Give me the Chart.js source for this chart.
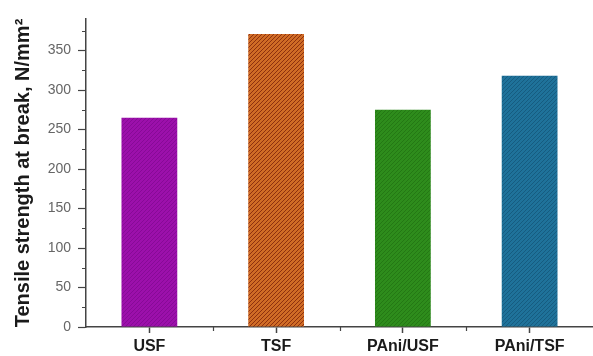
<!DOCTYPE html>
<html>
<head>
<meta charset="utf-8">
<script src="https://cdn.jsdelivr.net/npm/chart.js@4.4.1/dist/chart.umd.min.js"></script>
<style>
  html, body { margin: 0; padding: 0; background: #fff; }
  #wrap { width: 593px; height: 356px; }
</style>
</head>
<body>
<div id="wrap"><canvas id="c" width="593" height="356"></canvas></div>
<script>
// Fibre samples and their tensile strength at break (N/mm²)
const samples = ['USF', 'TSF', 'PAni/USF', 'PAni/TSF'];
const strength = [265, 371, 275, 318];

// Value axis range and tick spacing
const yMin = 0;
const yMax = 390;
const yMajorStep = 50;
const yMinorStep = 25;

// Hatched fill: a base colour crossed by thin diagonal stripes
function hatch(base, stripe, size, lw) {
  const c = document.createElement('canvas');
  c.width = size; c.height = size;
  const g = c.getContext('2d');
  g.fillStyle = base;
  g.fillRect(0, 0, size, size);
  g.strokeStyle = stripe;
  g.lineWidth = lw;
  g.beginPath();
  g.moveTo(-1, size + 1); g.lineTo(size + 1, -1);
  g.moveTo(-1, 1); g.lineTo(1, -1);
  g.moveTo(size - 1, size + 1); g.lineTo(size + 1, size - 1);
  g.stroke();
  return g.createPattern(c, 'repeat');
}

const ctx0 = document.getElementById('c').getContext('2d');
const fills = [
  hatch('#9c10ab', '#870a97', 4, 1),
  hatch('#d06c26', '#8e300e', 4, 1),
  hatch('#2e8c1c', '#247814', 4, 1),
  hatch('#1f729a', '#165c80', 4, 1)
];

// Short minor ticks on both axes, drawn from the scales' own pixel mapping
const minorTicks = {
  id: 'minorTicks',
  afterDraw(chart) {
    const { ctx, scales: { x, y } } = chart;
    ctx.save();
    ctx.strokeStyle = '#444';
    ctx.lineWidth = 1.2;
    ctx.beginPath();
    for (let v = yMin + yMinorStep; v < yMax; v += yMajorStep) {
      const py = Math.round(y.getPixelForValue(v)) + 0.5;
      ctx.moveTo(x.left - 4, py);
      ctx.lineTo(x.left, py);
    }
    for (let i = 0; i < samples.length - 1; i++) {
      const px = Math.round(x.getPixelForValue(i + 0.5)) + 0.5;
      ctx.moveTo(px, y.bottom);
      ctx.lineTo(px, y.bottom + 4);
    }
    ctx.stroke();
    ctx.restore();
  }
};

new Chart(ctx0, {
  type: 'bar',
  data: {
    labels: samples,
    datasets: [{
      data: strength,
      backgroundColor: fills,
      borderWidth: 0,
      barPercentage: 0.44,
      categoryPercentage: 1.0
    }]
  },
  options: {
    responsive: false,
    animation: false,
    devicePixelRatio: 1,
    layout: { padding: { top: 19, right: 0, bottom: 0, left: 0 } },
    plugins: {
      legend: { display: false },
      tooltip: { enabled: false }
    },
    scales: {
      x: {
        offset: true,
        afterFit(s) { s.height = 29; },
        border: { display: true, color: '#444', width: 1.5 },
        grid: {
          display: true,
          drawOnChartArea: false,
          drawTicks: true,
          offset: false,
          tickLength: 6,
          tickWidth: 1.5,
          tickColor: '#444'
        },
        ticks: {
          color: '#1a1a1a',
          padding: 4,
          maxRotation: 0,
          font: { family: 'Liberation Sans, Arial, sans-serif', size: 16, weight: 'bold' }
        }
      },
      y: {
        min: yMin,
        max: yMax,
        afterFit(s) { s.width = 86; },
        afterBuildTicks(s) {
          s.ticks = s.ticks.filter(t => t.value % yMajorStep === 0);
        },
        border: { display: true, color: '#444', width: 1.5 },
        grid: {
          display: true,
          drawOnChartArea: false,
          drawTicks: true,
          tickLength: 8,
          tickWidth: 1.2,
          tickColor: '#444'
        },
        ticks: {
          stepSize: yMajorStep,
          color: '#666',
          padding: 7,
          font: { family: 'Liberation Sans, Arial, sans-serif', size: 14 }
        },
        title: {
          display: true,
          text: 'Tensile strength at break, N/mm²',
          color: '#1a1a1a',
          padding: { top: 11, bottom: 0 },
          font: { family: 'Liberation Sans, Arial, sans-serif', size: 20, weight: 'bold' }
        }
      }
    }
  },
  plugins: [minorTicks]
});
</script>
</body>
</html>
